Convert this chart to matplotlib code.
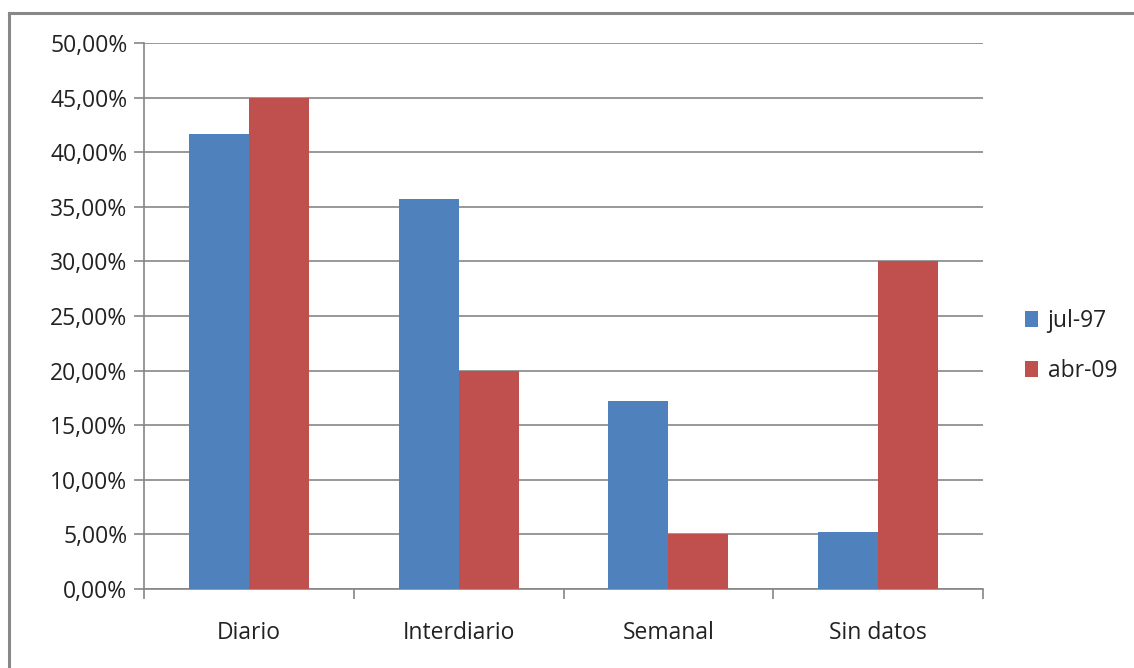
import numpy as np
import matplotlib.pyplot as plt
from matplotlib.ticker import FuncFormatter
from matplotlib.lines import Line2D

categories = ["Diario", "Interdiario", "Semanal", "Sin datos"]
series_names = ["jul-97", "abr-09"]
jul97 = [41.67, 35.71, 17.24, 5.26]
abr09 = [45.0, 20.0, 5.0, 30.0]
yticks = [0, 5, 10, 15, 20, 25, 30, 35, 40, 45, 50]

colors = ["#4F81BD", "#C0504D"]
grid_col = "#868686"

plt.rcParams['font.family'] = ['Open Sans', 'DejaVu Sans']

fig = plt.figure(figsize=(11.34, 6.68), dpi=100)
ax = fig.add_axes([144/1134, 1-589/668, (983-144)/1134, (589-43)/668])

# chart frame: only left and top edges are inside the picture
top = 1 - 13/668
left = 9/1134
fig.lines.append(Line2D([left, left], [0, top], transform=fig.transFigure,
                        color="#888888", linewidth=2.2))
fig.lines.append(Line2D([left, 1], [top, top], transform=fig.transFigure,
                        color="#888888", linewidth=2.2))

x = np.arange(len(categories))
w = 0.286
ax.bar(x - w/2, jul97, w, color=colors[0], label=series_names[0], zorder=3)
ax.bar(x + w/2, abr09, w, color=colors[1], label=series_names[1], zorder=3)

ax.set_xlim(-0.5, len(categories) - 0.5)
ax.set_ylim(0, 50)
ax.set_yticks(yticks)
ax.yaxis.set_major_formatter(FuncFormatter(lambda v, p: ("%.2f%%" % v).replace(".", ",")))
ax.yaxis.grid(True, color=grid_col, linewidth=1.2, zorder=0)

# category boundary ticks, labels in the middle
ax.set_xticks(np.arange(len(categories) + 1) - 0.5)
ax.set_xticklabels([])
ax.set_xticks(x, minor=True)
ax.set_xticklabels(categories, minor=True, fontsize=16.5, color="#222222")
ax.tick_params(axis="x", which="minor", length=0, pad=23)
ax.tick_params(axis="x", which="major", length=7, color=grid_col, width=1.2)
ax.tick_params(axis="y", length=7, color=grid_col, width=1.2, labelsize=16.5,
               labelcolor="#222222", pad=5)

for s in ["top", "right"]:
    ax.spines[s].set_visible(False)
for s in ["left", "bottom"]:
    ax.spines[s].set_color(grid_col)
    ax.spines[s].set_linewidth(1.2)

ax.legend(loc="center left", bbox_to_anchor=(1.025, 0.445), frameon=False,
          fontsize=16.5, handlelength=0.6, handleheight=0.7, handletextpad=0.4,
          labelspacing=1.1, labelcolor="#222222")

fig.savefig("out.png", dpi=100)
